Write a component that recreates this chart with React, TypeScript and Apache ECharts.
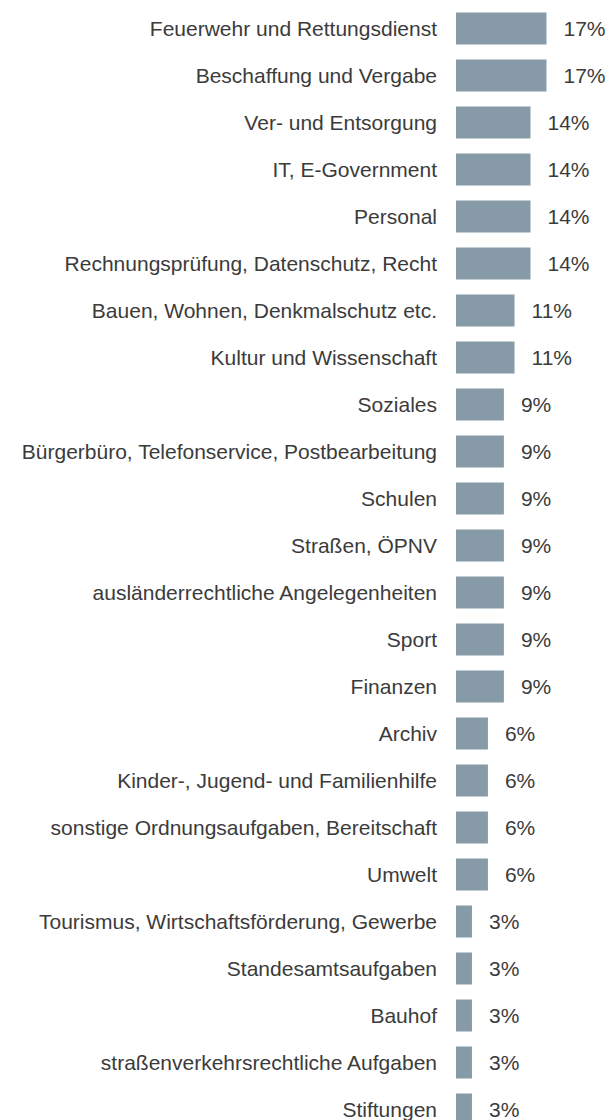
import React, { useEffect, useRef } from "react";
import * as echarts from "echarts";

const categories: string[] = [
  "Feuerwehr und Rettungsdienst",
  "Beschaffung und Vergabe",
  "Ver- und Entsorgung",
  "IT, E-Government",
  "Personal",
  "Rechnungsprüfung, Datenschutz, Recht",
  "Bauen, Wohnen, Denkmalschutz etc.",
  "Kultur und Wissenschaft",
  "Soziales",
  "Bürgerbüro, Telefonservice, Postbearbeitung",
  "Schulen",
  "Straßen, ÖPNV",
  "ausländerrechtliche Angelegenheiten",
  "Sport",
  "Finanzen",
  "Archiv",
  "Kinder-, Jugend- und Familienhilfe",
  "sonstige Ordnungsaufgaben, Bereitschaft",
  "Umwelt",
  "Tourismus, Wirtschaftsförderung, Gewerbe",
  "Standesamtsaufgaben",
  "Bauhof",
  "straßenverkehrsrechtliche Aufgaben",
  "Stiftungen",
];

const values: number[] = [17, 17, 14, 14, 14, 14, 11, 11, 9, 9, 9, 9, 9, 9, 9, 6, 6, 6, 6, 3, 3, 3, 3, 3];

const FONT = "'Liberation Sans', Arial, sans-serif";
const TEXT_COLOR = "#3b3b3b";
const BAR_COLOR = "#869aa8";

export default function App() {
  const ref = useRef<HTMLDivElement>(null);

  useEffect(() => {
    if (!ref.current) return;
    const chart = echarts.init(ref.current, undefined, { renderer: "svg" });
    chart.setOption({
      animation: false,
      backgroundColor: "#ffffff",
      grid: { left: 456, right: 0, top: 5, bottom: 7, containLabel: false },
      xAxis: {
        type: "value",
        min: 0,
        max: 28,
        show: false,
      },
      yAxis: {
        type: "category",
        data: categories,
        inverse: true,
        axisLine: { show: false },
        axisTick: { show: false },
        splitLine: { show: false },
        axisLabel: {
          margin: 19,
          fontFamily: FONT,
          fontSize: 21,
          color: TEXT_COLOR,
          align: "right",
        },
      },
      series: [
        {
          type: "bar",
          data: values,
          barWidth: 32,
          itemStyle: { color: BAR_COLOR },
          label: {
            show: true,
            position: "right",
            distance: 17,
            formatter: (p: any) => `${p.value}%`,
            fontFamily: FONT,
            fontSize: 21,
            color: TEXT_COLOR,
          },
        },
      ],
    });
    return () => chart.dispose();
  }, []);

  return (
    <div
      style={{
        position: "fixed",
        left: 0,
        top: 0,
        width: 605,
        height: 1120,
        overflow: "hidden",
        background: "#fff",
      }}
    >
      <div ref={ref} style={{ width: 605, height: 1140 }} />
    </div>
  );
}
